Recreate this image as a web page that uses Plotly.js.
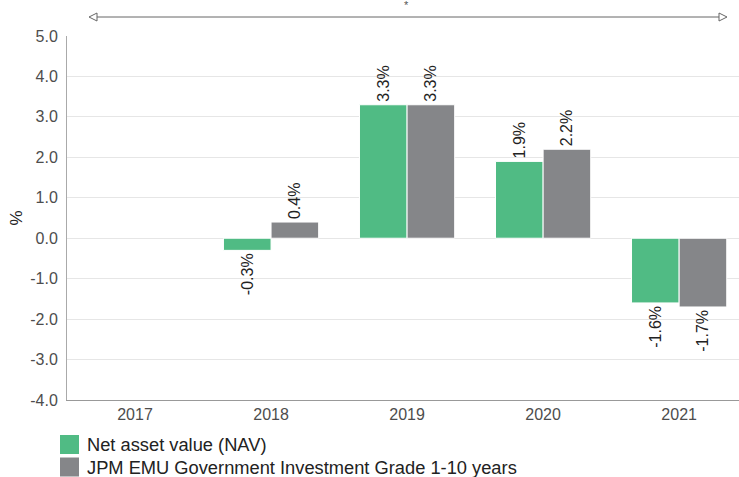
<!DOCTYPE html>
<html>
<head>
<meta charset="utf-8">
<script src="https://cdn.plot.ly/plotly-3.0.1.min.js"></script>
<style>html,body{margin:0;padding:0;background:#fff;}#chart{width:739px;height:477px;}</style>
</head>
<body>
<div id="chart"></div>
<script>
// ---- data ----
const categories = ["2017", "2018", "2019", "2020", "2021"];
const navValues = [null, -0.3, 3.3, 1.9, -1.6];
const benchValues = [null, 0.4, 3.3, 2.2, -1.7];
const seriesNames = ["Net asset value (NAV)", "JPM EMU Government Investment Grade 1-10 years"];
const seriesColors = ["#50bb84", "#858689"];
const yTickVals = [-4, -3, -2, -1, 0, 1, 2, 3, 4, 5];
const yTickText = ["-4.0", "-3.0", "-2.0", "-1.0", "0.0", "1.0", "2.0", "3.0", "4.0", "5.0"];

// ---- layout helpers (pixel -> paper) ----
const W = 739, H = 477;
const M = {l: 67, r: 0, t: 36, b: 77, autoexpand: false};
const pw = W - M.l - M.r, ph = H - M.t - M.b;
const px = x => (x - M.l) / pw;
const py = y => (H - M.b - y) / ph;

const font = "Liberation Sans, Arial, Helvetica, sans-serif";

function barTrace(name, vals, color) {
  return {
    type: "bar",
    name: name,
    x: categories,
    y: vals,
    marker: {color: color, line: {color: "#ffffff", width: 1}},
    text: vals.map(v => v === null ? "" : v.toFixed(1) + "%"),
    texttemplate: "%{text}",
    textposition: "outside",
    textangle: -90,
    constraintext: "none",
    cliponaxis: false,
    textfont: {family: font, size: 16, color: "#222222"},
    hoverinfo: "skip",
    showlegend: false
  };
}

const data = [
  barTrace(seriesNames[0], navValues, seriesColors[0]),
  barTrace(seriesNames[1], benchValues, seriesColors[1])
];

// top double-headed arrow (open triangles)
const ay = 17, axL = 89, axR = 727, ah = 4, al = 8;
const arrowColor = "#666666";
const shapes = [
  {type: "line", xref: "paper", yref: "paper", x0: px(axL + al), x1: px(axR - al), y0: py(ay), y1: py(ay),
   line: {color: arrowColor, width: 1}},
  {type: "path", xref: "paper", yref: "paper",
   path: `M ${px(axL)} ${py(ay)} L ${px(axL + al)} ${py(ay - ah)} L ${px(axL + al)} ${py(ay + ah)} Z`,
   fillcolor: "#ffffff", line: {color: arrowColor, width: 1}},
  {type: "path", xref: "paper", yref: "paper",
   path: `M ${px(axR)} ${py(ay)} L ${px(axR - al)} ${py(ay - ah)} L ${px(axR - al)} ${py(ay + ah)} Z`,
   fillcolor: "#ffffff", line: {color: arrowColor, width: 1}}
];

// custom legend (square swatches + labels) below the plot
const annotations = [
  {text: "*", xref: "paper", yref: "paper", x: px(406), y: py(5), showarrow: false,
   font: {family: font, size: 11, color: "#555555"}, xanchor: "center", yanchor: "middle"}
];
const legTop = 435, legStep = 22.5, sw = 19;
seriesNames.forEach((name, i) => {
  const t = legTop + i * legStep;
  shapes.push({type: "rect", xref: "paper", yref: "paper",
    x0: px(60), x1: px(60 + sw), y0: py(t), y1: py(t + sw),
    fillcolor: seriesColors[i], line: {width: 0}});
  annotations.push({text: name, xref: "paper", yref: "paper",
    x: px(85), y: py(t + sw / 2), xanchor: "left", yanchor: "middle", showarrow: false,
    font: {family: font, size: 18.3, color: "#222222"}});
});

const layout = {
  width: W, height: H,
  margin: M,
  paper_bgcolor: "#ffffff",
  plot_bgcolor: "#ffffff",
  font: {family: font, size: 16, color: "#4d4d4d"},
  barmode: "group",
  bargap: 0.3,
  bargroupgap: 0,
  showlegend: false,
  xaxis: {
    type: "category",
    range: [-0.5, 4.44],
    showline: true, linecolor: "#999999", linewidth: 1,
    showgrid: false, zeroline: false,
    ticks: "",
    tickfont: {family: font, size: 16, color: "#4d4d4d"},
    fixedrange: true
  },
  yaxis: {
    range: [-4, 5],
    tickvals: yTickVals,
    ticktext: yTickText,
    showline: true, linecolor: "#aaaaaa", linewidth: 1,
    showgrid: true, gridcolor: "#e6e6e6", gridwidth: 1,
    zeroline: false,
    ticks: "",
    ticklabelstandoff: 5,
    tickfont: {family: font, size: 16, color: "#4d4d4d"},
    title: {text: "%", font: {family: font, size: 17, color: "#222222"}, standoff: 3},
    fixedrange: true
  },
  shapes: shapes,
  annotations: annotations
};

Plotly.newPlot("chart", data, layout, {displayModeBar: false, staticPlot: true});
</script>
</body>
</html>
